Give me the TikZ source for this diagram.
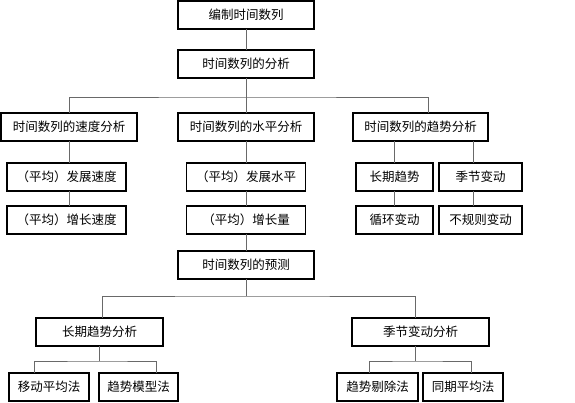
\documentclass[tikz,border=0pt]{standalone}
\usepackage{fontspec}
\usepackage{tikz}
\usetikzlibrary{
	positioning,
	calc
}
\newfontfamily\cjk{Noto Sans CJK SC}
\definecolor{LinkGray}{RGB}{105,105,105}

\begin{document}
\begin{tikzpicture}[
	x=1pt,
	y=-1pt,
	box/.style={
		draw=black,
		line width=1.2pt,
		minimum height=28pt,
		inner sep=2pt,
		outer sep=0pt,
		font=\cjk\fontsize{12.5}{15}\selectfont
	},
	link/.style={
		LinkGray,
		line width=0.9pt
	}
	]
	
	\useasboundingbox (0,0) rectangle (575,402);
	
	\node[
	box,
	minimum width=136pt
	]
	(top) at (246,15)
	{编制时间数列};
	
	\node[
	box,
	minimum width=136pt,
	below=21pt of top
	]
	(ana)
	{时间数列的分析};
	
	\node[
	box,
	minimum width=136pt,
	below=35pt of ana
	]
	(level)
	{时间数列的水平分析};
	
	\node[
	box,
	minimum width=136pt,
	left=41pt of level
	]
	(speed)
	{时间数列的速度分析};
	
	\node[
	box,
	minimum width=135pt,
	right=39pt of level
	]
	(trend)
	{时间数列的趋势分析};
	
	\node[
	box,
	minimum width=119pt,
	below=22pt of speed,
	xshift=-2.5pt
	]
	(sp1)
	{（平均）发展速度};
	
	\node[
	box,
	minimum width=119pt,
	below=15pt of sp1
	]
	(sp2)
	{（平均）增长速度};
	
	\node[
	box,
	minimum width=119pt,
	below=22pt of level
	]
	(lv1)
	{（平均）发展水平};
	
	\node[
	box,
	minimum width=119pt,
	below=15pt of lv1
	]
	(lv2)
	{（平均）增长量};
	
	\node[
	box,
	minimum width=136pt,
	below=17pt of lv2
	]
	(fc)
	{时间数列的预测};
	
	\node[
	box,
	minimum width=77pt,
	below=22pt of trend.south west,
	anchor=north west,
	xshift=3pt
	]
	(tr1)
	{长期趋势};
	
	\node[
	box,
	minimum width=83pt,
	right=6pt of tr1
	]
	(tr2)
	{季节变动};
	
	\node[
	box,
	minimum width=77pt,
	below=15pt of tr1
	]
	(tr3)
	{循环变动};
	
	\node[
	box,
	minimum width=83pt,
	below=15pt of tr2
	]
	(tr4)
	{不规则变动};
	
	\node[
	box,
	minimum width=127pt,
	below=39pt of fc,
	xshift=-146.5pt
	]
	(long)
	{长期趋势分析};
	
	\node[
	box,
	minimum width=137pt,
	right=189pt of long
	]
	(season)
	{季节变动分析};
	
	\node[
	box,
	minimum width=80pt,
	below=27pt of long.south west,
	anchor=north west,
	xshift=-27pt
	]
	(m1)
	{移动平均法};
	
	\node[
	box,
	minimum width=79pt,
	right=10pt of m1
	]
	(m2)
	{趋势模型法};
	
	\node[
	box,
	minimum width=81pt,
	below=27pt of season.south west,
	anchor=north west,
	xshift=-15pt
	]
	(m3)
	{趋势剔除法};
	
	\node[
	box,
	minimum width=80pt,
	right=5pt of m3
	]
	(m4)
	{同期平均法};
	
	\coordinate (bar1) at ([yshift=-19pt]ana.south);
	\coordinate (bar2) at ([yshift=-17pt]fc.south);
	\coordinate (bar3) at ([yshift=-15pt]long.south);
	\coordinate (bar4) at ([yshift=-15pt,xshift=-5.5pt]season.south);
	
	\draw[link] (top.south) -- (ana.north);
	\draw[link] (ana.south) -- (level.north);
	\draw[link] (speed.north) |- (bar1) -| ([xshift=7.5pt]trend.north);
	
	\draw[link] (speed.south) -- (speed.south |- sp1.north);
	\draw[link] (speed.south |- sp1.south) -- (speed.south |- sp2.north);
	
	\draw[link] (level.south) -- (lv1.north);
	\draw[link] (lv1.south) -- (lv2.north);
	\draw[link] (lv2.south) -- (fc.north);
	
	\draw[link] (tr1.north |- trend.south) -- (tr1.north);
	\draw[link] (tr1.south) -- (tr3.north);
	\draw[link] ([xshift=-7.5pt]tr2.north |- trend.south) -- ([xshift=-7.5pt]tr2.north);
	\draw[link] ([xshift=-7.5pt]tr2.south) -- ([xshift=-7.5pt]tr4.north);
	
	\draw[link] (fc.south) -- (bar2);
	\draw[link] ([xshift=2.5pt]long.north) |- (bar2) -| ([xshift=-5.5pt]season.north);
	
	\draw[link] (long.south) -- (bar3);
	\draw[link] ([xshift=-15pt]m1.north) |- (bar3) -| ([xshift=17.5pt]m2.north);
	
	\draw[link] ([xshift=-5.5pt]season.south) -- (bar4);
	\draw[link] ([xshift=-8.5pt]m3.north) |- (bar4) -| ([xshift=8pt]m4.north);
	
\end{tikzpicture}
\end{document}
